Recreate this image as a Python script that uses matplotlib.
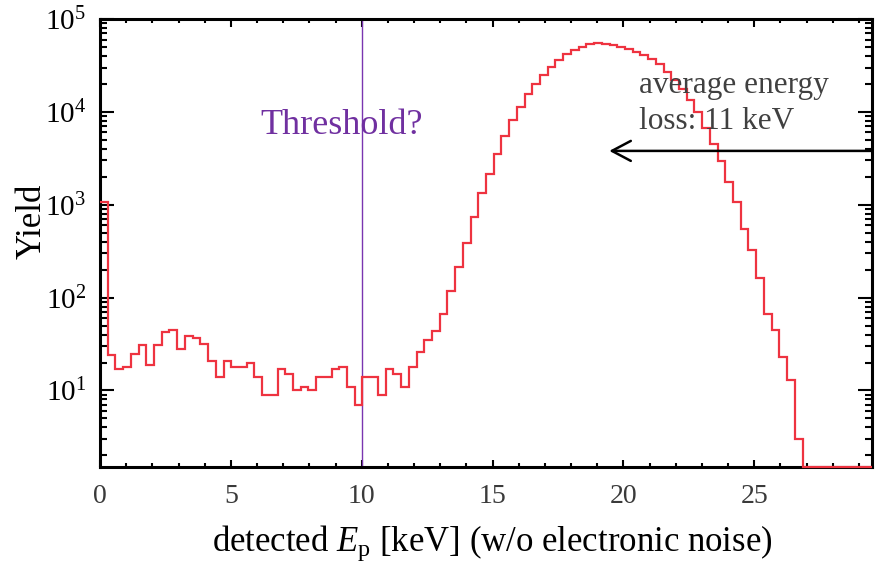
"""Detected proton energy spectrum"""
import numpy as np
import matplotlib
matplotlib.use('Agg')
import matplotlib.pyplot as plt
from matplotlib.ticker import LogLocator, MultipleLocator, NullFormatter

# histogram: 100 bins from 0 to 29.5 keV
bin_lo = 0.0
bin_hi = 29.5
yields = [1070, 24, 17, 18, 25, 31, 19, 31, 43, 45,
          28, 39, 37, 32, 21, 14, 21, 18, 18, 20,
          14, 9, 9, 17, 15, 10, 11, 10, 14, 14,
          17, 18, 11, 7, 14, 14, 9, 17, 15, 11,
          18, 26, 35, 44, 66, 117, 215, 384, 743, 1340,
          2120, 3480, 5560, 8200, 11230, 15630, 20180, 25000, 30700, 35950,
          41700, 46400, 50400, 53800, 54800, 53800, 52500, 50300, 47200, 44500,
          41300, 37100, 32600, 27100, 22100, 17500, 13500, 9930, 6780, 4560,
          2950, 1750, 1070, 543, 328, 163, 66, 45, 23, 13,
          3, 0, 0, 0, 0, 0, 0, 0, 0, 0]

threshold = 10.0
arrow_from = 29.5
arrow_to = 19.46
arrow_y = 3800

plt.rcParams['font.family'] = ['Liberation Serif', 'DejaVu Serif']
plt.rcParams['mathtext.fontset'] = 'custom'
plt.rcParams['mathtext.rm'] = 'Liberation Serif'
plt.rcParams['mathtext.it'] = 'Liberation Serif:italic'


def main():
    fig = plt.figure(figsize=(8.81, 5.67), dpi=100)
    ax = fig.add_axes([100 / 881, 1 - 467 / 567, 772 / 881, 448 / 567])

    ymin, ymax = 1.5, 1e5
    counts = np.array(yields, dtype=float)
    edges = np.linspace(bin_lo, bin_hi, len(counts) + 1)
    # empty bins sit on the lower frame, as ROOT draws them
    shown = np.where(counts > 0, counts, ymin)
    ax.stairs(shown, edges, baseline=None, color='#ee3340', lw=1.6,
              zorder=3, clip_on=False)

    ax.axvline(threshold, color='#7a35b0', lw=1.0, zorder=2)
    ax.text(6.12, 5730, 'Threshold?', color='#7030a0', fontsize=26, va='baseline')

    ax.text(20.6, 16130, 'average energy', color='#404040', fontsize=22.5, va='baseline')
    ax.text(20.6, 6560, 'loss: 11 keV', color='#404040', fontsize=22.5, va='baseline')
    ax.annotate('', xy=(arrow_to, arrow_y), xytext=(arrow_from, arrow_y),
                arrowprops=dict(arrowstyle='->,head_length=0.68,head_width=0.36',
                                mutation_scale=20, lw=1.8, color='black',
                                shrinkA=0, shrinkB=0))

    ax.set_yscale('log')
    ax.set_xlim(bin_lo, bin_hi)
    ax.set_ylim(ymin, ymax)

    ax.xaxis.set_major_locator(MultipleLocator(5))
    ax.xaxis.set_minor_locator(MultipleLocator(1))
    ax.yaxis.set_major_locator(LogLocator(base=10, numticks=10))
    ax.yaxis.set_minor_locator(LogLocator(base=10, subs=np.arange(2, 10), numticks=10))
    ax.yaxis.set_minor_formatter(NullFormatter())

    ax.tick_params(axis='both', which='both', direction='in', top=True, right=True, width=1.5)
    ax.tick_params(axis='x', which='major', length=5.4, labelsize=20, pad=12, labelcolor='#3a3a3a')
    ax.tick_params(axis='x', which='minor', length=3)
    ax.tick_params(axis='y', which='major', length=10, labelsize=21, pad=10)
    ax.tick_params(axis='y', which='minor', length=5)
    for sp in ax.spines.values():
        sp.set_linewidth(2.2)

    ax.set_xlabel(r'detected $E_{\rm p}$ [keV] (w/o electronic noise)', fontsize=25)
    ax.xaxis.label.set_va('baseline')
    ax.xaxis.set_label_coords(0.508, -0.188)
    ax.set_ylabel('Yield', fontsize=25)
    ax.yaxis.label.set_va('center')
    ax.yaxis.set_label_coords(-0.088, 0.549)

    fig.savefig('out.png', dpi=100)


if __name__ == '__main__':
    main()
